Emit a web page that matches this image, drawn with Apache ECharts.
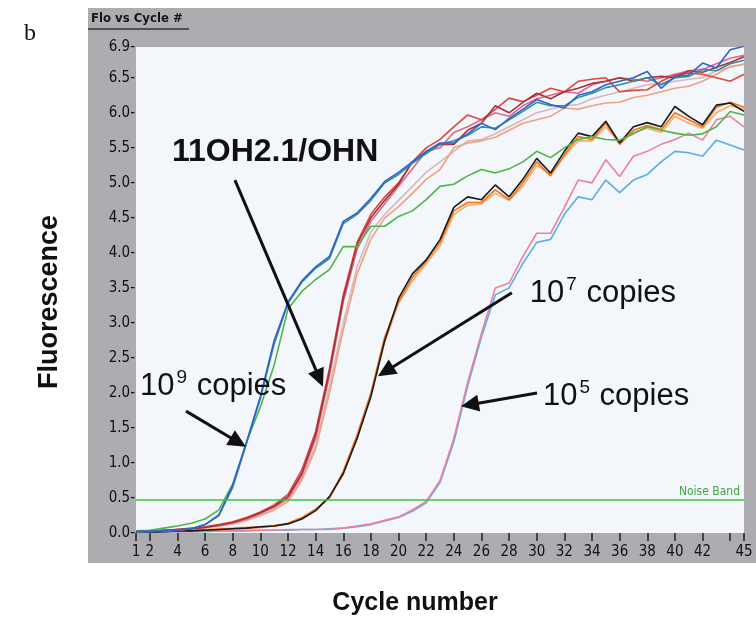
<!DOCTYPE html>
<html><head><meta charset="utf-8">
<script src="https://cdn.jsdelivr.net/npm/echarts@6/dist/echarts.min.js"></script>
<style>html,body{margin:0;padding:0;background:#fff}#c{width:756px;height:622px}</style>
</head><body><div id="c"></div>
<script>
// ---------- data ----------
const cycles = [1,2,3,4,5,6,7,8,9,10,11,12,13,14,15,16,17,18,19,20,21,22,23,24,25,26,27,28,29,30,31,32,33,34,35,36,37,38,39,40,41,42,43,44,45];
const xLabelCycles = [1,2,4,6,8,10,12,14,16,18,20,22,24,26,28,30,32,34,36,38,40,42,45];
const xTickCycles = [1,2,4,6,8,10,12,14,16,18,20,22,24,26,28,30,32,34,36,38,40,42,44,45];
const noiseBand = 0.48;

// 10^9 copies
const blue9 = [0.02,0.02,0.03,0.04,0.06,0.12,0.26,0.68,1.3,1.95,2.75,3.3,3.6,3.8,3.95,4.45,4.57,4.78,5.02,5.15,5.3,5.45,5.57,5.57,5.7,5.85,5.76,5.92,6.05,6.19,6.12,6.07,6.25,6.3,6.4,6.45,6.5,6.59,6.35,6.52,6.54,6.71,6.64,6.9,6.95];
const teal9 = [0.02,0.03,0.03,0.04,0.06,0.12,0.25,0.65,1.28,1.92,2.7,3.28,3.58,3.78,3.92,4.42,4.55,4.75,5.0,5.12,5.28,5.42,5.55,5.6,5.68,5.8,5.78,5.9,6.02,6.15,6.1,6.1,6.22,6.28,6.36,6.4,6.45,6.5,6.4,6.5,6.52,6.62,6.6,6.7,6.75];
const green9 = [0.03,0.04,0.07,0.1,0.14,0.2,0.33,0.7,1.3,1.8,2.4,3.2,3.45,3.62,3.76,4.09,4.09,4.38,4.38,4.52,4.6,4.76,4.95,4.98,5.1,5.19,5.14,5.2,5.3,5.45,5.36,5.5,5.62,5.66,5.62,5.61,5.7,5.8,5.75,5.71,5.68,5.7,5.8,6.02,5.97];
// 11OH2.1/OHN
const darkRed = [0.02,0.03,0.04,0.05,0.06,0.08,0.11,0.15,0.21,0.29,0.38,0.52,0.85,1.4,2.3,3.35,4.12,4.5,4.75,4.98,5.3,5.42,5.55,5.55,5.75,5.85,6.1,6.0,6.15,6.28,6.2,6.3,6.35,6.42,6.45,6.5,6.45,6.5,6.52,6.5,6.6,6.58,6.65,6.72,6.8];
const red = [0.02,0.03,0.03,0.05,0.07,0.09,0.12,0.16,0.22,0.3,0.4,0.55,0.9,1.45,2.35,3.4,4.15,4.55,4.8,5.0,5.3,5.5,5.62,5.8,5.97,5.9,6.05,6.21,6.16,6.25,6.35,6.3,6.45,6.48,6.5,6.3,6.32,6.33,6.45,6.54,6.57,6.55,6.5,6.45,6.55];
const mauve = [0.02,0.02,0.04,0.05,0.06,0.08,0.11,0.15,0.2,0.28,0.37,0.5,0.82,1.35,2.25,3.3,4.05,4.45,4.7,4.95,5.2,5.45,5.5,5.72,5.8,5.9,6.0,5.95,6.1,6.2,6.25,6.3,6.28,6.4,6.45,6.5,6.48,6.45,6.5,6.55,6.6,6.62,6.7,6.78,6.82];
const salmon = [0.02,0.03,0.04,0.05,0.06,0.08,0.1,0.13,0.18,0.25,0.33,0.45,0.75,1.2,2.0,2.9,3.7,4.2,4.5,4.66,4.85,5.05,5.19,5.5,5.57,5.6,5.65,5.75,5.85,5.9,5.95,6.07,6.05,6.1,6.14,6.15,6.22,6.25,6.3,6.35,6.38,6.45,6.55,6.66,6.69];
const paleRose = [0.02,0.03,0.03,0.04,0.06,0.08,0.1,0.13,0.19,0.26,0.35,0.48,0.78,1.25,2.1,3.0,3.8,4.3,4.55,4.75,4.95,5.15,5.3,5.45,5.6,5.62,5.7,5.8,5.9,6.0,6.05,6.1,6.12,6.2,6.25,6.3,6.35,6.4,6.42,6.45,6.48,6.5,6.6,6.65,6.7];
// 10^7 copies
const black7 = [0.01,0.01,0.02,0.03,0.03,0.04,0.05,0.06,0.07,0.09,0.1,0.13,0.2,0.32,0.52,0.85,1.35,1.95,2.75,3.35,3.7,3.9,4.19,4.65,4.8,4.76,4.97,4.8,5.05,5.35,5.14,5.45,5.71,5.66,5.88,5.57,5.8,5.86,5.8,6.09,5.95,5.83,6.11,6.14,6.02];
const orange7 = [0.02,0.02,0.03,0.04,0.04,0.05,0.05,0.06,0.07,0.08,0.1,0.14,0.22,0.34,0.5,0.88,1.4,2.0,2.8,3.3,3.65,3.88,4.15,4.6,4.72,4.72,4.9,4.76,5.0,5.3,5.1,5.4,5.66,5.62,5.85,5.55,5.75,5.82,5.76,6.0,5.9,5.8,6.08,6.15,6.08];
const lightOrange7 = [0.02,0.03,0.03,0.04,0.05,0.05,0.06,0.07,0.08,0.09,0.11,0.14,0.21,0.33,0.5,0.84,1.35,1.98,2.72,3.28,3.6,3.85,4.1,4.55,4.68,4.7,4.85,4.75,4.95,5.25,5.12,5.38,5.6,5.6,5.8,5.58,5.72,5.78,5.72,5.95,5.85,5.78,6.0,6.1,6.05];
// 10^5 copies
const pink5 = [0.01,0.01,0.02,0.02,0.02,0.03,0.03,0.03,0.04,0.04,0.04,0.05,0.05,0.05,0.05,0.07,0.1,0.13,0.18,0.23,0.33,0.45,0.75,1.35,2.15,2.85,3.5,3.57,3.95,4.28,4.28,4.65,5.04,5.0,5.33,5.09,5.38,5.45,5.55,5.62,5.71,5.61,5.9,5.95,5.8];
const lightBlue5 = [0.01,0.01,0.01,0.02,0.02,0.02,0.03,0.03,0.03,0.04,0.04,0.04,0.05,0.05,0.06,0.07,0.09,0.12,0.17,0.22,0.31,0.43,0.72,1.3,2.1,2.8,3.4,3.5,3.85,4.15,4.19,4.55,4.8,4.76,5.04,4.86,5.04,5.12,5.3,5.45,5.43,5.38,5.61,5.54,5.47];

// annotations in data coordinates [cycle, fluorescence]
const arrowFrom = [[8.16,5.04],[4.62,1.74],[28.2,3.43],[30.02,2.0]];
const arrowTo   = [[14.53,2.09],[8.96,1.23],[18.51,2.24],[24.52,1.81]];
const labelAt   = [[3.6,5.44],[1.29,2.14],[29.5,3.47],[30.45,2.0]];
const labelText = ['11OH2.1/OHN','10','10','10'];
const labelSup  = ['', '9', '7', '5'];

// ---------- chart ----------
const NARROW = "'Liberation Sans Narrow','Arial Narrow','DejaVu Sans Condensed','Roboto Condensed',sans-serif";
const SANS = "'Liberation Sans',Arial,Helvetica,sans-serif";
const chart = echarts.init(document.getElementById('c'), null, {renderer:'canvas'});
const pairs = arr => cycles.map((c,i)=>[c, arr[i]]);

const defs = [
  [lightBlue5,'#5aaee0'],[pink5,'#ef7f9f'],
  [lightOrange7,'#f4ae62'],[orange7,'#f2701e'],[black7,'#1a1a1a'],
  [paleRose,'#d3b8bc'],[salmon,'#f1a07c'],[mauve,'#d96a8c'],[red,'#e0463e'],[darkRed,'#a8323a'],
  [green9,'#4fb348'],[teal9,'#2f8f9a'],[blue9,'#2e62cf']
];
const series = defs.map((d,i)=>({
  type:'line', xAxisIndex:0, yAxisIndex:0, data:pairs(d[0]), showSymbol:false, symbol:'none',
  silent:true, z:3, lineStyle:{color:d[1], width:1.6}, itemStyle:{color:d[1]}
}));
series[0].markLine = {
  silent:true, symbol:'none', animation:false,
  lineStyle:{color:'#3cc43c', width:1.6, type:'solid'},
  label:{show:true, position:'insideEndTop', formatter:'Noise Band', color:'#3aa83a', fontFamily:NARROW, fontSize:12, distance:[4,2]},
  data:[{yAxis:noiseBand}]
};

chart.setOption({
  backgroundColor:'#ffffff',
  animation:false,
  grid:{left:136,right:12,top:47,bottom:89,show:true,backgroundColor:'#f3f6fb',borderWidth:0},
  xAxis:[
    {type:'value',min:1,max:45,show:false},
    {type:'category',data:cycles.map(String),boundaryGap:false,position:'bottom',
     axisLine:{show:false},
     axisTick:{show:true,interval:i=>xTickCycles.includes(cycles[i]),length:8,lineStyle:{color:'#222',width:1.5}},
     axisLabel:{interval:i=>xLabelCycles.includes(cycles[i]),margin:12,color:'#111',fontFamily:NARROW,fontSize:15},
     splitLine:{show:false}}
  ],
  yAxis:{type:'value',min:0,max:6.94,interval:0.5,axisLine:{show:false},axisTick:{show:false},splitLine:{show:false},
    axisLabel:{formatter:v=>v.toFixed(1)+'-',margin:1,color:'#111',fontFamily:NARROW,fontSize:15,showMaxLabel:true,showMinLabel:true}},
  series:series,
  graphic:[
    {type:'rect',id:'panel',z:-1,shape:{x:88,y:8,width:668,height:555},style:{fill:'#adadb1'}},
    {type:'text',id:'title',z:5,x:91,y:12,style:{text:'Flo vs Cycle #',font:"bold 13px "+NARROW,fill:'#151515'}},
    {type:'line',id:'titleLine',z:5,shape:{x1:88,y1:29,x2:189,y2:29},style:{stroke:'#333',lineWidth:1.5}},
    {type:'text',id:'b',z:5,x:24,y:22,style:{text:'b',font:"24px 'Liberation Serif','Times New Roman',serif",fill:'#111'}},
    {type:'text',id:'ylab',z:5,x:50,y:302,rotation:Math.PI/2,style:{text:'Fluorescence',font:"bold 27px "+SANS,fill:'#111',align:'center',verticalAlign:'middle'}},
    {type:'text',id:'xlab',z:5,x:415,y:603,style:{text:'Cycle number',font:"bold 25px "+SANS,fill:'#111',align:'center',verticalAlign:'middle'}}
  ]
});

// annotations: arrows and labels placed through the grid's coordinate system
const P = (c,v)=>chart.convertToPixel({xAxisIndex:0,yAxisIndex:0},[c,v]);
const g = [];
arrowFrom.forEach((f,i)=>{
  const s = P(f[0],f[1]), e = P(arrowTo[i][0],arrowTo[i][1]);
  const dx=e[0]-s[0], dy=e[1]-s[1], L=Math.hypot(dx,dy), ux=dx/L, uy=dy/L;
  const hl=18, hw=8.5;
  const bx=e[0]-ux*hl, by=e[1]-uy*hl;
  g.push({type:'line',id:'al'+i,z:20,shape:{x1:s[0],y1:s[1],x2:bx+ux*2,y2:by+uy*2},style:{stroke:'#111',lineWidth:3}});
  g.push({type:'polygon',id:'ah'+i,z:20,shape:{points:[[e[0],e[1]],[bx-uy*hw,by+ux*hw],[bx+uy*hw,by-ux*hw]]},style:{fill:'#111'}});
});
labelAt.forEach((p,i)=>{
  const q = P(p[0],p[1]);
  if(!labelSup[i]){
    g.push({type:'text',id:'lt'+i,z:20,x:q[0],y:q[1],style:{text:labelText[i],font:"bold 32px "+SANS,fill:'#111',verticalAlign:'middle'}});
  } else {
    g.push({type:'text',id:'lt'+i,z:20,x:q[0],y:q[1]-15,style:{
      text:'{n|'+labelText[i]+'}{s|'+labelSup[i]+'}{n| copies}',
      rich:{n:{font:"31px "+SANS,fill:'#111',lineHeight:34,verticalAlign:'bottom'},
            s:{font:"19px "+SANS,fill:'#111',lineHeight:34,verticalAlign:'top',padding:[0,1,0,2]}}
    }});
  }
});
chart.setOption({graphic:g});
</script></body></html>
